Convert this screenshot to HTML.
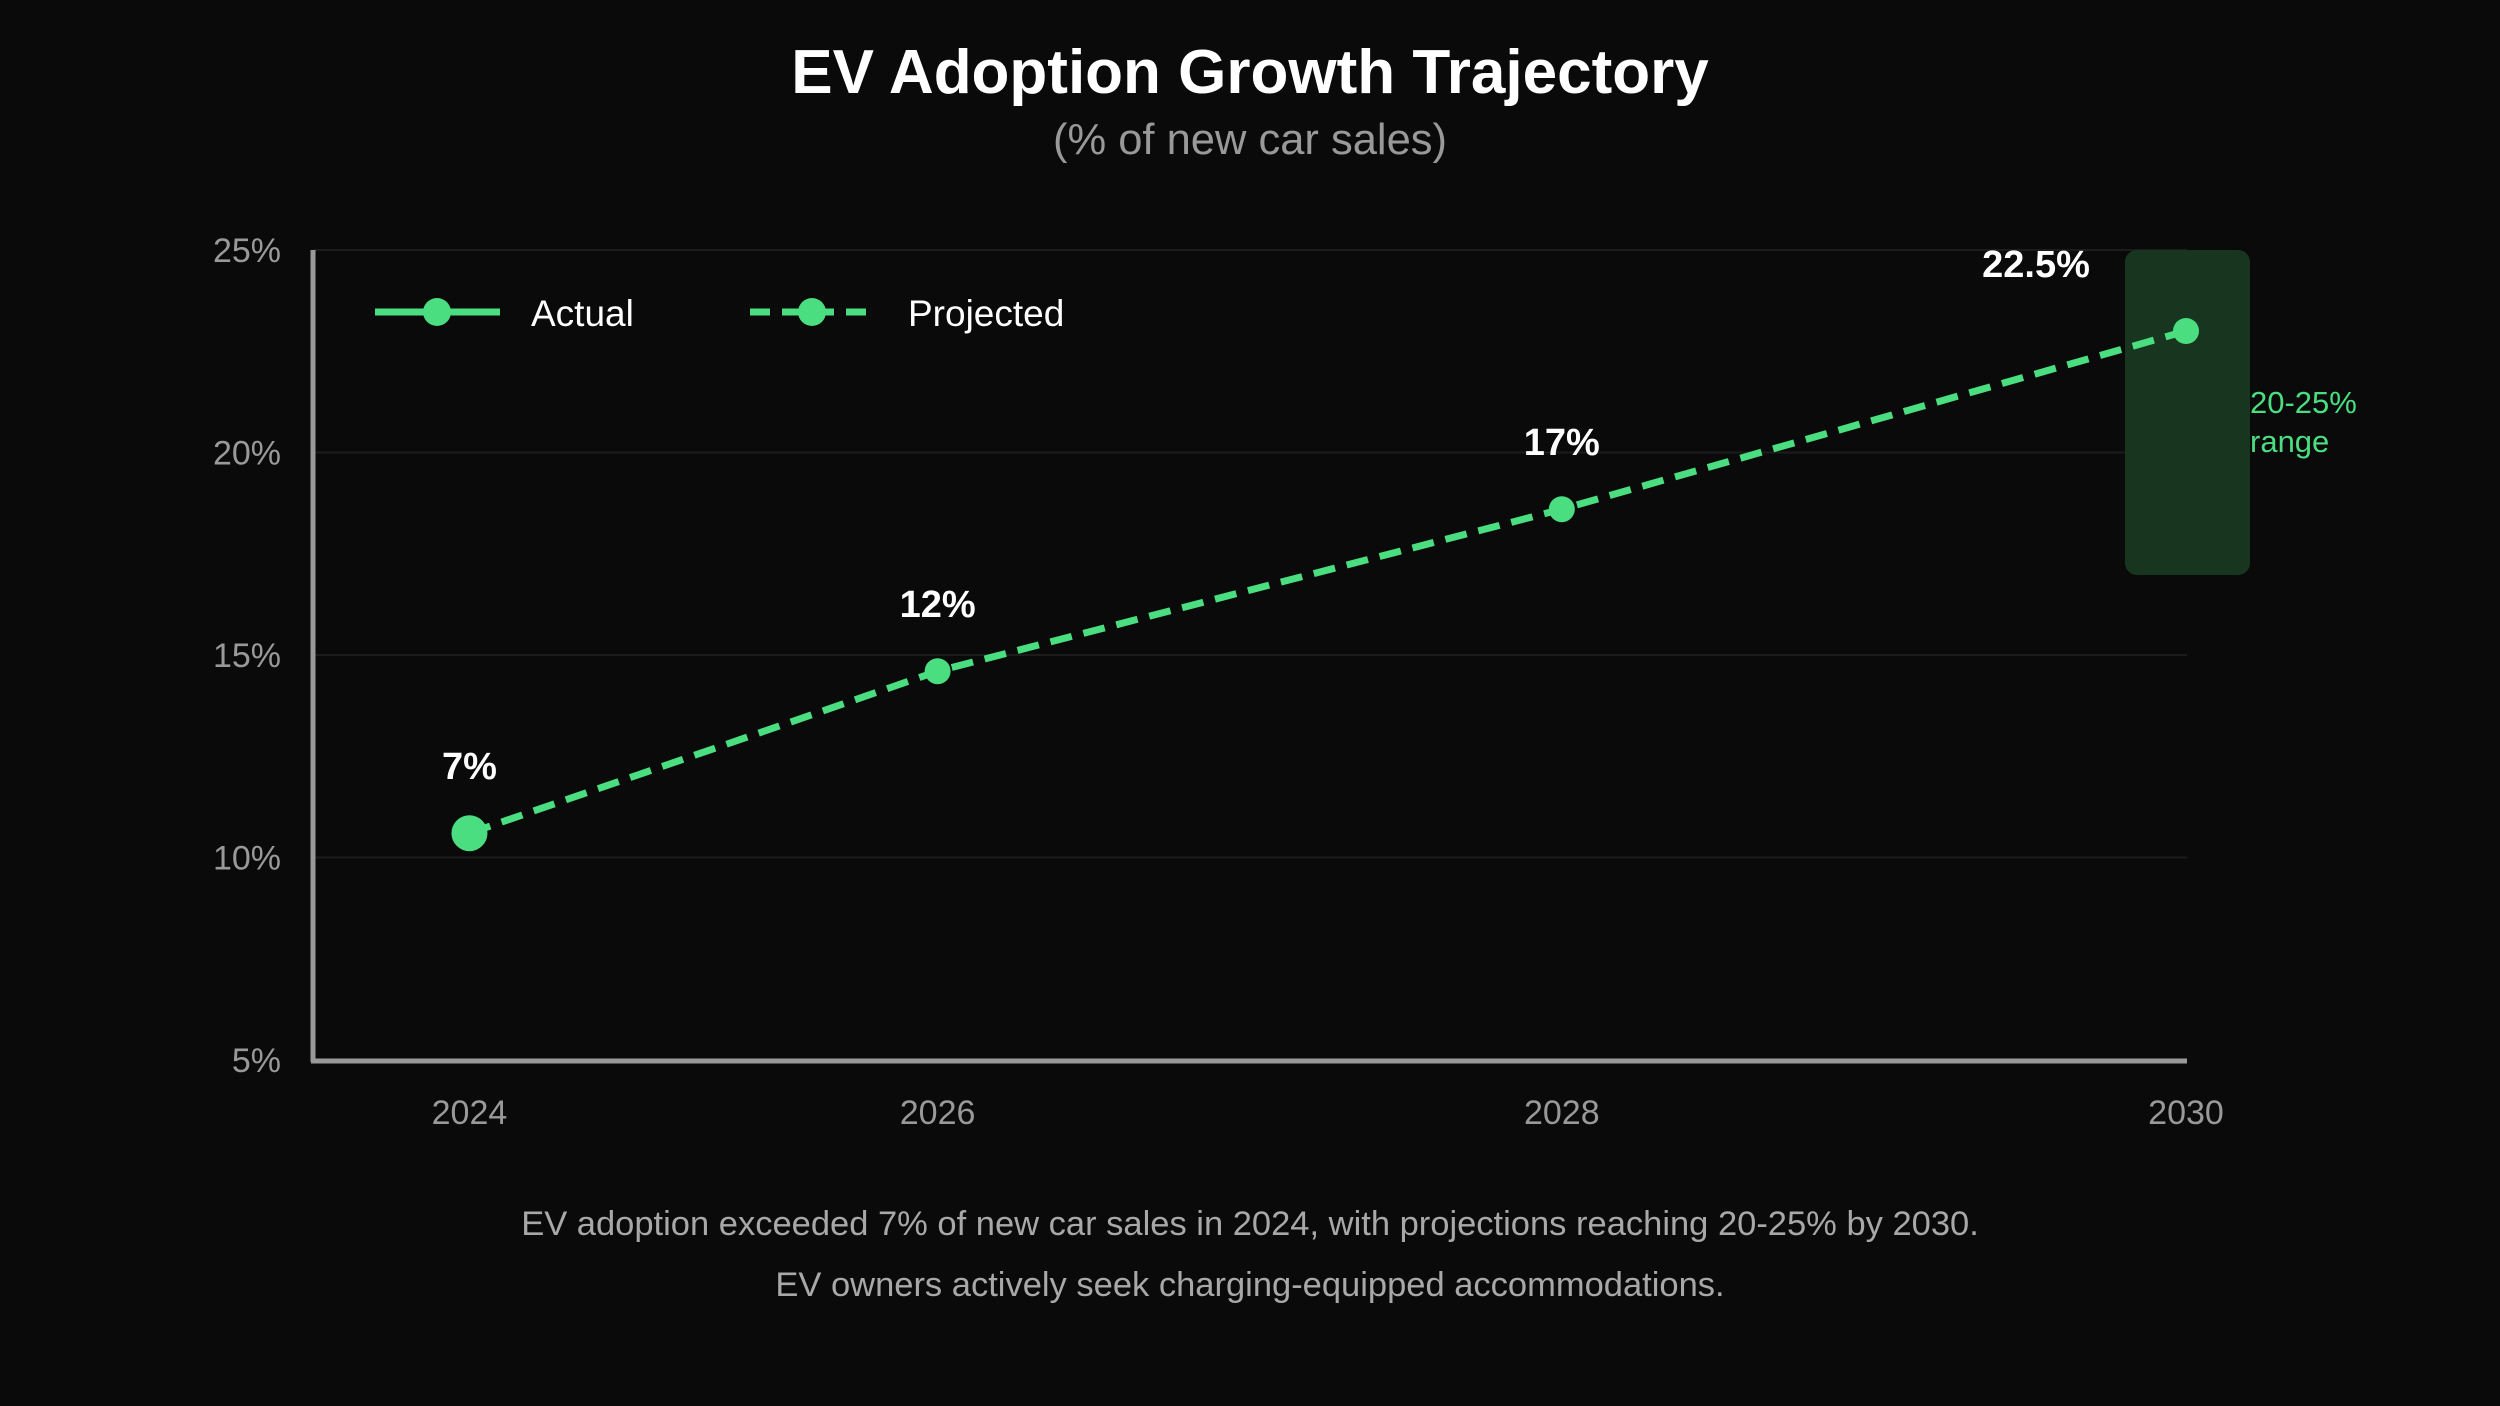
<!DOCTYPE html>
<html><head><meta charset="utf-8"><style>
html,body{margin:0;padding:0;background:#0a0a0a;}
svg{display:block;font-family:"Liberation Sans",sans-serif;}
</style></head><body>
<svg id="chart" width="2500" height="1406" viewBox="0 0 2500 1406">
<rect width="2500" height="1406" fill="#0a0a0a"/>
<text x="1250" y="93" text-anchor="middle" font-size="62" font-weight="bold" fill="#ffffff">EV Adoption Growth Trajectory</text>
<text x="1250" y="154" text-anchor="middle" font-size="43.5" fill="#999999">(% of new car sales)</text>
<g id="grid"></g>
<g id="yticks"></g>
<g id="xticks"></g>
<rect x="2125" y="250" width="125" height="325" rx="12" fill="#18351f"/>
<text x="2250" y="413" font-size="31" fill="#4ade80">20-25%</text>
<text x="2250" y="452" font-size="31" fill="#4ade80">range</text>
<line x1="313" y1="250" x2="313" y2="1062" stroke="#999" stroke-width="5"/>
<line x1="311" y1="1061" x2="2187" y2="1061" stroke="#999" stroke-width="5"/>
<g id="series"></g>
<g>
 <g>
  <line x1="375" y1="312" x2="500" y2="312" stroke="#4ade80" stroke-width="7"/>
  <circle cx="437" cy="312" r="14" fill="#4ade80"/>
  <text x="531" y="326" font-size="37" fill="#ffffff">Actual</text>
 </g>
 <g>
  <line x1="750" y1="312" x2="875" y2="312" stroke="#4ade80" stroke-width="7" stroke-dasharray="20,12"/>
  <circle cx="812" cy="312" r="14" fill="#4ade80"/>
  <text x="908" y="326" font-size="37" fill="#ffffff">Projected</text>
 </g>
</g>
<text x="1250" y="1235" text-anchor="middle" font-size="34.5" fill="#a8a8a8">EV adoption exceeded 7% of new car sales in 2024, with projections reaching 20-25% by 2030.</text>
<text x="1250" y="1296" text-anchor="middle" font-size="34.5" fill="#a8a8a8">EV owners actively seek charging-equipped accommodations.</text>
</svg>
<script>
const xPositions = [2024.5, 2026, 2028, 2030];
const yearLabels = ["2024", "2026", "2028", "2030"];
const plottedValues = [10.6, 14.6, 18.6, 23.0];
const valueLabels = ["7%", "12%", "17%", "22.5%"];
const yTicks = [5, 10, 15, 20, 25];
const yTickLabels = ["5%", "10%", "15%", "20%", "25%"];

const NS = "http://www.w3.org/2000/svg";
function xScale(yr){ return 2186 - (2030 - yr) * 312.1; }
function yScale(v){ return 1060 - (v - 5) * (1060 - 250) / 20; }
function mk(tag, attrs, parent){ const e = document.createElementNS(NS, tag); for (const k in attrs) e.setAttribute(k, attrs[k]); parent.appendChild(e); return e; }

const grid = document.getElementById('grid');
const yt = document.getElementById('yticks');
yTicks.forEach((t, i) => {
  const g = mk('line', {x1: 313, x2: 2187, y1: yScale(t), y2: yScale(t), stroke: '#1c1c1c', 'stroke-width': 2}, grid);
  
  
  const tx = mk('text', {x: 281, y: yScale(t) + 12, 'text-anchor': 'end', 'font-size': 34, fill: '#999999'}, yt);
  tx.textContent = yTickLabels[i];
  
  
});
const xt = document.getElementById('xticks');
xPositions.forEach((y, i) => {
  const tx = mk('text', {x: xScale(y), y: 1124, 'text-anchor': 'middle', 'font-size': 34, fill: '#999999'}, xt);
  tx.textContent = yearLabels[i];
  
  
});
const s = document.getElementById('series');
const pts = xPositions.map((y, i) => xScale(y) + ',' + yScale(plottedValues[i])).join(' ');
const pl = mk('polyline', {points: pts, fill: 'none', stroke: '#4ade80', 'stroke-width': 7, 'stroke-dasharray': '22,12'}, s);


xPositions.forEach((y, i) => {
  const c = mk('circle', {cx: xScale(y), cy: yScale(plottedValues[i]), r: i === 0 ? 18 : 13, fill: '#4ade80'}, s);
  
  
  const lx = i === xPositions.length - 1 ? xScale(y) - 150 : xScale(y);
  const t = mk('text', {x: lx, y: yScale(plottedValues[i]) - 54, 'text-anchor': 'middle', 'font-size': 38, 'font-weight': 'bold', fill: '#ffffff'}, s);
  t.textContent = valueLabels[i];
  
  
});
</script>
</body></html>
